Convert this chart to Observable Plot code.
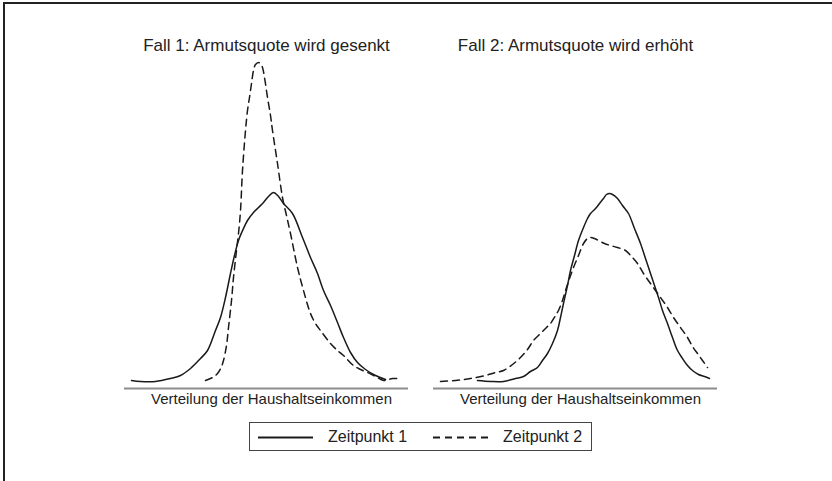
<!DOCTYPE html>
<html><head><meta charset="utf-8">
<script src="https://cdn.jsdelivr.net/npm/d3@7"></script>
<script src="https://cdn.jsdelivr.net/npm/@observablehq/plot@0.6"></script>
<style>
body{margin:0;background:#fff;font-family:"Liberation Sans",Arial,sans-serif;}
#wrap{position:relative;width:832px;height:481px;overflow:hidden;background:#fff;}
#bl{position:absolute;left:3px;top:2px;width:2px;height:479px;background:#222;}
#bt{position:absolute;left:3px;top:2px;width:829px;height:2px;background:#222;}
#chart{position:absolute;left:0;top:0;}
#legend{position:absolute;left:249px;top:422px;width:341px;height:27px;border:1px solid #444;background:#fff;}
#legend .it{position:absolute;top:0;height:27px;line-height:27px;font-size:16px;color:#222;white-space:nowrap;}
#legend svg{position:absolute;top:0;}
</style></head>
<body>
<div id="wrap">
  <div id="chart"></div>
  <div id="legend"></div>
  <div id="bl"></div><div id="bt"></div>
</div>
<script>
// Panels, series and labels
const panels = ["Fall 1: Armutsquote wird gesenkt", "Fall 2: Armutsquote wird erhöht"];
const series = ["Zeitpunkt 1", "Zeitpunkt 2"];
const xLabel = "Verteilung der Haushaltseinkommen";

// Fall 1, Zeitpunkt 1 (solid)
const f1t1_x = [2.46,5.63,10.92,16.2,19.72,23.24,26.76,29.23,32.04,33.8,35.56,37.32,38.73,40.14,41.9,43.31,45.42,47.18,48.94,50.7,52.46,54.23,55.99,59.15,62.68,65.49,67.96,70.07,72.54,75,77.11,79.58,82.04,84.86,88.38,91.9];
const f1t1_y = [0.01,0,0,0.03,0.06,0.13,0.23,0.31,0.51,0.64,0.84,1.08,1.26,1.41,1.53,1.61,1.69,1.74,1.79,1.85,1.89,1.85,1.78,1.68,1.44,1.24,1.08,0.91,0.76,0.59,0.44,0.29,0.19,0.12,0.06,0.02];
// Fall 1, Zeitpunkt 2 (dashed)
const f1t2_x = [28.52,30.99,32.75,34.15,34.86,35.92,36.62,37.68,38.38,39.44,40.14,40.85,41.55,42.61,43.31,44.01,44.72,45.42,46.13,47.18,47.89,48.59,49.3,50.35,51.41,52.11,53.87,55.63,57.04,58.45,60.92,63.03,65.49,67.25,69.01,72.54,75,77.11,80.63,83.1,85.56,88.38,91.2,92.96,94.37,97.18];
const f1t2_y = [0.01,0.04,0.08,0.15,0.21,0.36,0.54,0.81,1.04,1.31,1.48,1.71,2.11,2.51,2.71,2.84,2.98,3.11,3.17,3.19,3.18,3.14,3.04,2.84,2.66,2.51,2.18,1.84,1.66,1.48,1.14,0.91,0.68,0.58,0.51,0.38,0.31,0.26,0.16,0.12,0.09,0.05,0.01,0.02,0.03,0.03];
// Fall 2, Zeitpunkt 1 (solid)
const f2t1_x = [15.49,20.07,24.65,28.87,31.69,34.15,36.62,38.38,40.14,41.9,43.66,44.72,45.77,47.18,48.24,49.65,51.06,52.82,54.23,55.28,57.04,58.45,59.86,60.92,61.97,63.03,64.79,66.55,68.66,70.77,72.89,74.65,76.41,77.82,79.23,80.63,82.39,84.15,85.92,87.68,89.44,91.2,93.31,95.42,97.18];
const f2t1_y = [0.01,0,0,0.03,0.05,0.1,0.14,0.21,0.28,0.38,0.51,0.64,0.78,0.96,1.11,1.26,1.41,1.54,1.63,1.68,1.73,1.78,1.83,1.87,1.88,1.87,1.83,1.76,1.68,1.53,1.38,1.23,1.08,0.96,0.84,0.71,0.58,0.44,0.31,0.23,0.16,0.11,0.07,0.05,0.03];
// Fall 2, Zeitpunkt 2 (dashed)
const f2t2_x = [2.46,7.75,13.03,18.31,21.83,24.65,27.82,30.63,33.1,35.21,37.68,39.79,41.2,42.96,44.01,45.42,46.48,47.89,49.3,51.06,52.82,54.23,55.28,56.69,58.1,60.21,62.32,64.79,67.61,69.72,71.83,73.94,76.41,78.17,79.93,82.39,84.51,86.97,89.44,91.2,92.96,94.72,96.48];
const f2t2_y = [0,0.01,0.03,0.06,0.09,0.11,0.17,0.24,0.32,0.41,0.48,0.54,0.58,0.66,0.71,0.81,0.91,1.03,1.14,1.26,1.38,1.43,1.44,1.43,1.41,1.38,1.36,1.34,1.31,1.25,1.18,1.08,0.98,0.91,0.84,0.74,0.64,0.54,0.44,0.35,0.28,0.21,0.14];

function rowsOf(panel, serie, xs, ys) {
  return xs.map((x, i) => ({panel, serie, x, y: ys[i]}));
}
const rows = [
  ...rowsOf(panels[0], series[0], f1t1_x, f1t1_y),
  ...rowsOf(panels[0], series[1], f1t2_x, f1t2_y),
  ...rowsOf(panels[1], series[0], f2t1_x, f2t1_y),
  ...rowsOf(panels[1], series[1], f2t2_x, f2t2_y)
];

const ink = "#1a1a1a";
const dash = "7,5";

const chart = Plot.plot({
  width: 832, height: 410,
  marginLeft: 124, marginRight: 115, marginTop: 61, marginBottom: 22,
  fx: {domain: panels, axis: null, paddingInner: 25/309, paddingOuter: 0},
  x: {domain: [0, 100], axis: null},
  y: {domain: [0, 3.2], axis: null, insetBottom: 7},
  style: {fontFamily: "'Liberation Sans', Arial, sans-serif", background: "transparent"},
  marks: [
    Plot.ruleY([0], {dy: 7, stroke: "#8c8c8c", strokeWidth: 2}),
    Plot.line(rows.filter(d => d.serie === series[0]), {x: "x", y: "y", fx: "panel", stroke: ink, strokeWidth: 1.5, curve: "catmull-rom"}),
    Plot.line(rows.filter(d => d.serie === series[1]), {x: "x", y: "y", fx: "panel", stroke: ink, strokeWidth: 1.5, strokeDasharray: dash, curve: "catmull-rom"}),
    Plot.text(panels, {fx: d => d, text: d => d, frameAnchor: "top", lineAnchor: "middle", dy: -16, fontSize: 17, fill: "#222"}),
    Plot.text(panels, {fx: d => d, text: () => xLabel, frameAnchor: "bottom", lineAnchor: "middle", dy: 11, dx: 5, fontSize: 15, fill: "#222"})
  ]
});
document.getElementById("chart").appendChild(chart);

// Legend
const lg = document.getElementById("legend");
const items = [
  {label: series[0], dash: null, lx: 8, tx: 78},
  {label: series[1], dash: dash, lx: 183, tx: 253}
];
for (const it of items) {
  const s = d3.create("svg").attr("width", 62).attr("height", 27).style("left", it.lx + "px");
  s.append("line").attr("x1", 0).attr("x2", it.dash ? 60 : 55).attr("y1", 14.5).attr("y2", 14.5)
    .attr("stroke", ink).attr("stroke-width", 1.8).attr("stroke-dasharray", it.dash);
  lg.appendChild(s.node());
  const t = document.createElement("div");
  t.className = "it"; t.style.left = it.tx + "px"; t.textContent = it.label;
  lg.appendChild(t);
}
</script>
</body></html>
